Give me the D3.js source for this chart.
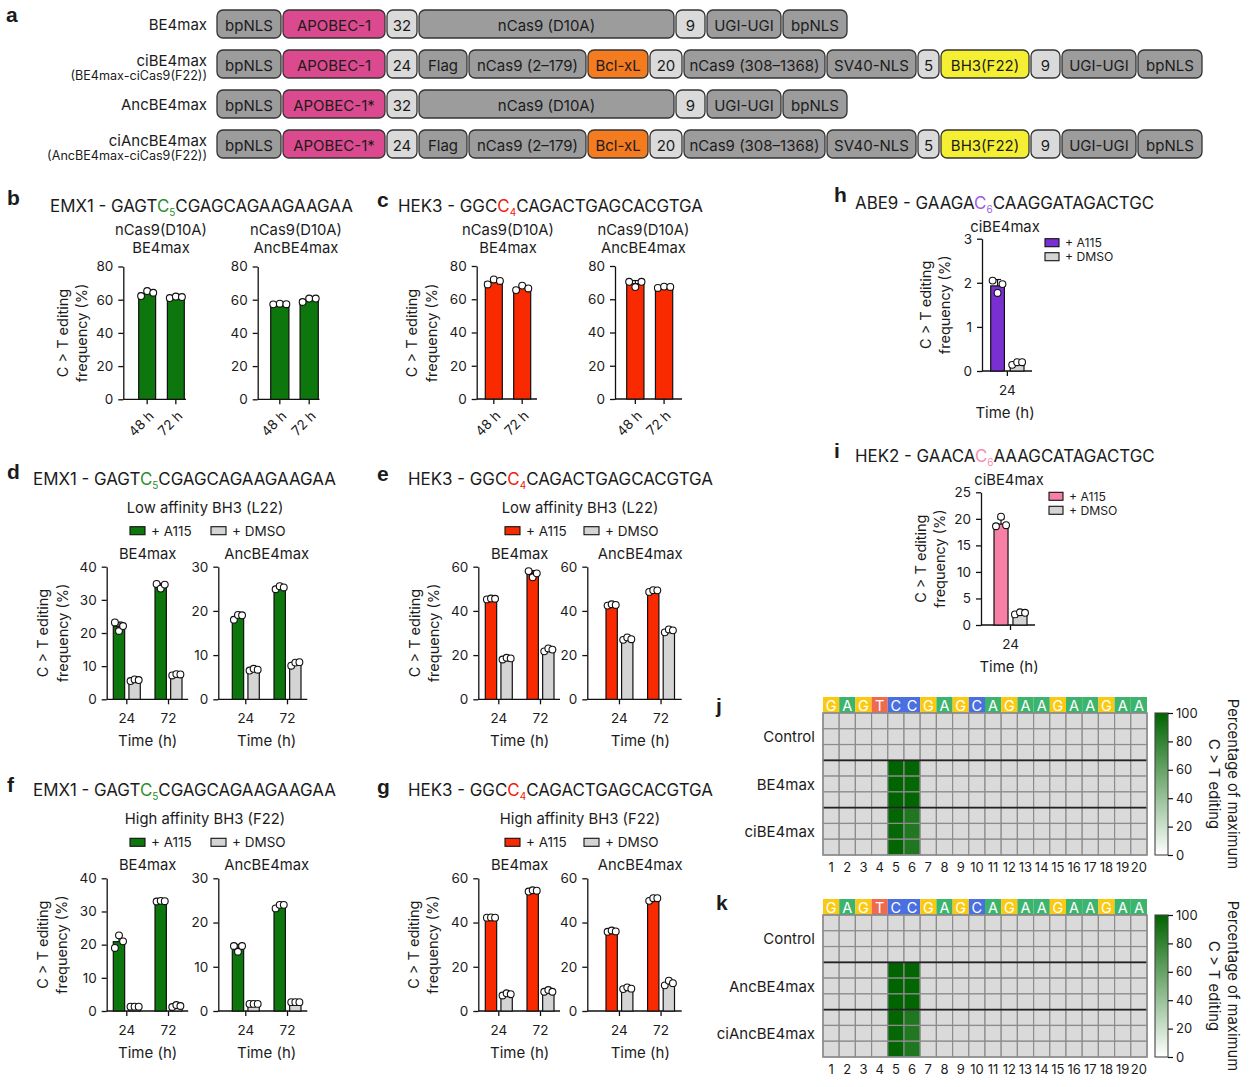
<!DOCTYPE html>
<html><head><meta charset="utf-8">
<script src="https://cdn.jsdelivr.net/npm/d3@7"></script>
<style>body{margin:0;background:#fff} svg{font-family:Inter,'Noto Sans',sans-serif}</style>
</head><body><svg id="c" width="1251" height="1087"></svg>
<script>
// ================= DATA =================
// Panel a: construct architecture
const constructs = ["BE4max", "ciBE4max", "AncBE4max", "ciAncBE4max"];
const constructNotes = ["", "(BE4max-ciCas9(F22))", "", "(AncBE4max-ciCas9(F22))"];
const domainsBE4max = ["bpNLS","APOBEC-1","32","nCas9 (D10A)","9","UGI-UGI","bpNLS"];
const domainsCiBE4max = ["bpNLS","APOBEC-1","24","Flag","nCas9 (2–179)","Bcl-xL","20","nCas9 (308–1368)","SV40-NLS","5","BH3(F22)","9","UGI-UGI","bpNLS"];
const domainsAncBE4max = ["bpNLS","APOBEC-1*","32","nCas9 (D10A)","9","UGI-UGI","bpNLS"];
const domainsCiAncBE4max = ["bpNLS","APOBEC-1*","24","Flag","nCas9 (2–179)","Bcl-xL","20","nCas9 (308–1368)","SV40-NLS","5","BH3(F22)","9","UGI-UGI","bpNLS"];

// Panels b, c: nCas9(D10A) editors (C>T %, 48 h / 72 h)
const timesBC = ["48 h", "72 h"];
const bBE4maxMean = [63.8, 61.5];
const bBE4maxReps = [[62.2, 65.2, 64.2], [61.0, 61.9, 61.6]];
const bAncMean = [57.4, 60.0];
const bAncReps = [[57.2, 57.6, 57.3], [58.6, 60.7, 60.7]];
const cBE4maxMean = [70.5, 66.8];
const cBE4maxReps = [[68.9, 71.9, 71.0], [65.5, 68.2, 66.5]];
const cAncMean = [69.4, 67.3];
const cAncReps = [[70.5, 67.3, 70.5], [66.8, 67.6, 67.4]];

// Panels d-g: A115 vs DMSO at 24 h / 72 h
const timesDG = ["24", "72"];
const dBE_A115 = [22.0, 34.2], dBE_A115Reps = [[23.2, 20.6, 22.1], [34.8, 33.4, 34.6]];
const dBE_DMSO = [5.8, 7.4],  dBE_DMSOReps = [[5.5, 6.0, 5.8], [7.2, 7.6, 7.5]];
const dAnc_A115 = [18.6, 25.2], dAnc_A115Reps = [[18.0, 19.1, 19.0], [24.9, 25.6, 25.3]];
const dAnc_DMSO = [6.7, 8.1],  dAnc_DMSOReps = [[6.5, 6.9, 6.7], [7.6, 8.3, 8.4]];

const eBE_A115 = [45.4, 56.8], eBE_A115Reps = [[45.2, 45.6, 45.5], [58.0, 55.2, 57.0]];
const eBE_DMSO = [18.4, 22.4], eBE_DMSOReps = [[18.0, 18.8, 18.5], [21.7, 23.0, 22.5]];
const eAnc_A115 = [42.7, 49.1], eAnc_A115Reps = [[42.4, 43.0, 42.7], [48.6, 49.4, 49.3]];
const eAnc_DMSO = [27.4, 31.0], eAnc_DMSOReps = [[26.9, 28.0, 27.2], [30.3, 31.6, 31.2]];

const fBE_A115 = [20.9, 33.1], fBE_A115Reps = [[19.0, 22.8, 21.0], [33.0, 33.2, 33.1]];
const fBE_DMSO = [1.3, 1.5],  fBE_DMSOReps = [[1.3, 1.3, 1.3], [1.2, 1.8, 1.5]];
const fAnc_A115 = [14.3, 23.7], fAnc_A115Reps = [[14.7, 13.4, 14.7], [23.2, 24.0, 24.0]];
const fAnc_DMSO = [1.6, 2.0],  fAnc_DMSOReps = [[1.6, 1.6, 1.6], [2.0, 2.0, 2.0]];

const gBE_A115 = [42.2, 54.3], gBE_A115Reps = [[42.2, 42.3, 42.2], [54.0, 54.6, 54.4]];
const gBE_DMSO = [7.5, 9.0],  gBE_DMSOReps = [[7.0, 8.0, 7.6], [8.7, 9.5, 8.7]];
const gAnc_A115 = [36.1, 50.6], gAnc_A115Reps = [[35.8, 36.4, 36.0], [49.8, 51.0, 51.0]];
const gAnc_DMSO = [10.2, 12.6], gAnc_DMSOReps = [[9.9, 10.7, 10.1], [11.6, 13.7, 12.6]];

// Panels h, i: ciBE4max at 24 h
const timesHI = ["24"];
const hA115 = [1.93], hA115Reps = [[2.05, 1.77, 1.97]];
const hDMSO = [0.17], hDMSOReps = [[0.14, 0.20, 0.20]];
const iA115 = [19.0], iA115Reps = [[18.6, 20.4, 18.8]];
const iDMSO = [2.2],  iDMSOReps = [[2.0, 2.4, 2.3]];

// Panels j, k: heatmaps (percentage of maximum C>T editing, positions 1-20)
const protospacer = ["G","A","G","T","C","C","G","A","G","C","A","G","A","A","G","A","A","G","A","A"];
const positions = ["1","2","3","4","5","6","7","8","9","10","11","12","13","14","15","16","17","18","19","20"];
const jGroups = ["Control", "BE4max", "ciBE4max"];
const jMatrix = [
  [0,0,0,0,0,0,0,0,0,0,0,0,0,0,0,0,0,0,0,0],
  [0,0,0,0,0,0,0,0,0,0,0,0,0,0,0,0,0,0,0,0],
  [0,0,0,0,0,0,0,0,0,0,0,0,0,0,0,0,0,0,0,0],
  [0,0,0,0,100,99,0,0,0,0,0,0,0,0,0,0,0,0,0,0],
  [0,0,0,0,100,98,0,0,0,0,0,0,0,0,0,0,0,0,0,0],
  [0,0,0,0,100,99,0,0,0,0,0,0,0,0,0,0,0,0,0,0],
  [0,0,0,0,99,88,0,0,0,0,0,0,0,0,0,0,0,0,0,0],
  [0,0,0,0,98,87,0,0,0,0,0,0,0,0,0,0,0,0,0,0],
  [0,0,0,0,99,88,0,0,0,0,0,0,0,0,0,0,0,0,0,0]
];
const kGroups = ["Control", "AncBE4max", "ciAncBE4max"];
const kMatrix = [
  [0,0,0,0,0,0,0,0,0,0,0,0,0,0,0,0,0,0,0,0],
  [0,0,0,0,0,0,0,0,0,0,0,0,0,0,0,0,0,0,0,0],
  [0,0,0,0,0,0,0,0,0,0,0,0,0,0,0,0,0,0,0,0],
  [0,0,0,0,100,99,0,0,0,0,0,0,0,0,0,0,0,0,0,0],
  [0,0,0,0,100,99,0,0,0,0,0,0,0,0,0,0,0,0,0,0],
  [0,0,0,0,100,99,0,0,0,0,0,0,0,0,0,0,0,0,0,0],
  [0,0,0,0,99,88,0,0,0,0,0,0,0,0,0,0,0,0,0,0],
  [0,0,0,0,98,87,0,0,0,0,0,0,0,0,0,0,0,0,0,0],
  [0,0,0,0,99,88,0,0,0,0,0,0,0,0,0,0,0,0,0,0]
];
const colorbarTicks = [0, 20, 40, 60, 80, 100];

// ================= STYLE / LAYOUT =================
const C = {
  green: "#0d760d", red: "#fa2a00", gray: "#d4d4d4", purple: "#7a2fd2", pink: "#f880a6",
  domGray: "#9c9c9c", domLight: "#dadada", apobec: "#db4a8e", bcl: "#f47b20", bh3: "#f5ef33",
  ink: "#1b1b1b"
};
const domainWidth = {"bpNLS":64,"APOBEC-1":102,"APOBEC-1*":102,"32":30,"24":30,"nCas9 (D10A)":255,"9":29,
  "UGI-UGI":74,"Flag":48,"nCas9 (2–179)":117,"Bcl-xL":60,"20":32,"nCas9 (308–1368)":141,"SV40-NLS":89,"5":21,"BH3(F22)":88};
function domainFill(d) {
  if (d.startsWith("APOBEC")) return C.apobec;
  if (d === "Bcl-xL") return C.bcl;
  if (d.startsWith("BH3")) return C.bh3;
  if (/^\d+$/.test(d)) return C.domLight;
  return C.domGray;
}

const svg = d3.select("#c");

function txt(x, y, s, o = {}) {
  const t = svg.append("text").attr("x", x).attr("y", y).text(s)
    .attr("font-size", o.size || 15).attr("fill", o.fill || C.ink)
    .attr("text-anchor", o.anchor || "start").attr("dominant-baseline", o.base || "central");
  if (o.weight) t.attr("font-weight", o.weight);
  if (o.rotate) t.attr("transform", `rotate(${o.rotate},${x},${y})`);
  if (o.family) t.attr("font-family", o.family);
  return t;
}
function letter(x, y, s) { txt(x, y, s, {size: 21, weight: 700, family: "'Liberation Sans',Arial,sans-serif"}); }

function seqTitle(x, y, pre, c, sub, post, col) {
  const t = svg.append("text").attr("x", x).attr("y", y).attr("font-size", 16.9)
    .attr("fill", C.ink).attr("dominant-baseline", "central");
  t.append("tspan").text(pre);
  t.append("tspan").text(c).attr("fill", col);
  t.append("tspan").text(sub).attr("fill", col).attr("font-size", 10).attr("dy", 6);
  t.append("tspan").text(post).attr("dy", -6);
}

// ================= PANEL a =================
letter(6, 14, "a");
const allDomains = [domainsBE4max, domainsCiBE4max, domainsAncBE4max, domainsCiAncBE4max];
const rowY = d3.scalePoint().domain(constructs).range([24, 144]);
constructs.forEach((name, i) => {
  const cy = rowY(name);
  if (constructNotes[i]) {
    txt(207, cy - 4, name, {anchor: "end"});
    txt(207, cy + 11, constructNotes[i], {anchor: "end", size: 12.6});
  } else {
    txt(207, cy, name, {anchor: "end"});
  }
  let x = 217;
  allDomains[i].forEach(d => {
    const w = domainWidth[d];
    svg.append("rect").attr("x", x).attr("y", cy - 14).attr("width", w).attr("height", 28)
      .attr("rx", 6).attr("fill", domainFill(d)).attr("stroke", "#333").attr("stroke-width", 1.3);
    txt(x + w / 2, cy + 1, d, {anchor: "middle"});
    x += w + 2;
  });
});

// ================= BAR CHART HELPER =================
function barChart(o) {
  const g = svg.append("g");
  const y = d3.scaleLinear().domain([0, o.ymax]).range([o.yBot, o.yTop]);
  const x = d3.scaleBand().domain(o.groups).range(o.barRange).paddingInner(o.padGroup || 0);
  const xi = d3.scaleBand().domain(o.series.map(s => s.name)).range([0, x.bandwidth()]).paddingInner(o.padSeries || 0);
  // y axis
  const ya = g.append("g").attr("transform", `translate(${o.axisX},0)`)
    .call(d3.axisLeft(y).tickValues(o.ticks).tickFormat(d3.format("~g")).tickSize(5).tickSizeOuter(0).tickPadding(5));
  ya.select(".domain").attr("stroke", "#111").attr("stroke-width", 1.3);
  ya.selectAll(".tick line").attr("stroke", "#111").attr("stroke-width", 1.3);
  ya.selectAll(".tick text").attr("font-size", 13.5).attr("fill", C.ink).attr("font-family", "Inter,'Noto Sans',sans-serif");
  // x axis line + ticks
  g.append("line").attr("x1", o.axisX).attr("x2", o.axisEnd).attr("y1", o.yBot).attr("y2", o.yBot)
    .attr("stroke", "#111").attr("stroke-width", 1.3);
  o.groups.forEach((grp, gi) => {
    const cx = x(grp) + x.bandwidth() / 2;
    g.append("line").attr("x1", cx).attr("x2", cx).attr("y1", o.yBot).attr("y2", o.yBot + 5)
      .attr("stroke", "#111").attr("stroke-width", 1.3);
    if (o.rotLabels) {
      g.append("text").attr("transform", `translate(${cx + 4},${o.yBot + 14}) rotate(-45)`)
        .attr("text-anchor", "end").attr("dominant-baseline", "central").attr("font-size", 13.5)
        .attr("fill", C.ink).text(grp);
    } else {
      g.append("text").attr("x", cx).attr("y", o.yBot + 19).attr("text-anchor", "middle")
        .attr("dominant-baseline", "central").attr("font-size", 13.5).attr("fill", C.ink).text(grp);
    }
  });
  // bars, error bars, points
  o.series.forEach(s => {
    o.groups.forEach((grp, gi) => {
      const bx = x(grp) + xi(s.name), bw = xi.bandwidth();
      const m = s.means[gi], reps = s.reps[gi];
      g.append("rect").attr("x", bx).attr("y", y(m)).attr("width", bw).attr("height", y(0) - y(m))
        .attr("fill", s.color).attr("stroke", "#111").attr("stroke-width", 1.2);
      const sd = d3.deviation(reps);
      const cx = bx + bw / 2;
      g.append("line").attr("x1", cx).attr("x2", cx).attr("y1", y(m)).attr("y2", y(m + sd))
        .attr("stroke", "#111").attr("stroke-width", 1.2);
      g.append("line").attr("x1", cx - 3.5).attr("x2", cx + 3.5).attr("y1", y(m + sd)).attr("y2", y(m + sd))
        .attr("stroke", "#111").attr("stroke-width", 1.2);
      const off = [-0.36, 0, 0.36];
      reps.forEach((v, k) => {
        g.append("circle").attr("cx", cx + off[k] * bw).attr("cy", y(v)).attr("r", 3.4)
          .attr("fill", "#fff").attr("stroke", "#111").attr("stroke-width", 1.1);
      });
    });
  });
  return {x, y};
}

function yTitle(xc1, xc2, yc) {
  txt(xc1, yc, "C > T editing", {anchor: "middle", rotate: -90, size: 14.5});
  txt(xc2, yc, "frequency (%)", {anchor: "middle", rotate: -90, size: 14.5});
}
function legend(x1, x2, y, col, size) {
  svg.append("rect").attr("x", x1).attr("y", y - 4).attr("width", 15).attr("height", 8)
    .attr("fill", col).attr("stroke", "#111").attr("stroke-width", 1.1);
  txt(x1 + 21, y, "+ A115", {size: size || 13.5});
  svg.append("rect").attr("x", x2).attr("y", y - 4).attr("width", 15).attr("height", 8)
    .attr("fill", C.gray).attr("stroke", "#111").attr("stroke-width", 1.1);
  txt(x2 + 21, y, "+ DMSO", {size: size || 13.5});
}

// ================= PANEL b =================
letter(7, 197, "b");
seqTitle(50, 206, "EMX1 - GAGT", "C", "5", "CGAGCAGAAGAAGAA", "#2a8f2a");
txt(161, 230, "nCas9(D10A)", {anchor: "middle", size: 14.8});
txt(161, 248, "BE4max", {anchor: "middle", size: 14.8});
txt(296, 230, "nCas9(D10A)", {anchor: "middle", size: 14.8});
txt(296, 248, "AncBE4max", {anchor: "middle", size: 14.8});
yTitle(62, 81, 333);
barChart({axisX: 123.3, axisEnd: 186, yTop: 266.5, yBot: 399.3, ymax: 80, ticks: [0,20,40,60,80],
  groups: timesBC, barRange: [138.7, 184.3], padGroup: 0.41, rotLabels: true,
  series: [{name: "s", color: C.green, means: bBE4maxMean, reps: bBE4maxReps}]});
barChart({axisX: 257.7, axisEnd: 319.5, yTop: 266.5, yBot: 399.3, ymax: 80, ticks: [0,20,40,60,80],
  groups: timesBC, barRange: [270.7, 318.3], padGroup: 0.38, rotLabels: true,
  series: [{name: "s", color: C.green, means: bAncMean, reps: bAncReps}]});

// ================= PANEL c =================
letter(377, 199, "c");
seqTitle(398, 206, "HEK3 - GGC", "C", "4", "CAGACTGAGCACGTGA", "#f0200c");
txt(508, 230, "nCas9(D10A)", {anchor: "middle", size: 14.8});
txt(508, 248, "BE4max", {anchor: "middle", size: 14.8});
txt(643.5, 230, "nCas9(D10A)", {anchor: "middle", size: 14.8});
txt(643.5, 248, "AncBE4max", {anchor: "middle", size: 14.8});
yTitle(411, 431, 333);
barChart({axisX: 476.7, axisEnd: 537, yTop: 266, yBot: 399, ymax: 80, ticks: [0,20,40,60,80],
  groups: timesBC, barRange: [485.3, 530.7], padGroup: 0.4, rotLabels: true,
  series: [{name: "s", color: C.red, means: cBE4maxMean, reps: cBE4maxReps}]});
barChart({axisX: 615, axisEnd: 682, yTop: 266, yBot: 399, ymax: 80, ticks: [0,20,40,60,80],
  groups: timesBC, barRange: [626.7, 672.7], padGroup: 0.4, rotLabels: true,
  series: [{name: "s", color: C.red, means: cAncMean, reps: cAncReps}]});

// ================= PANELS d-g =================
function pairPanel(o) {
  letter(o.lx, o.ly, o.letter);
  seqTitle(o.tx, o.ty, o.pre, "C", o.sub, o.post, o.cCol);
  txt(o.subX, o.ty + 28.5, o.subtitle, {anchor: "middle", size: 14.8});
  legend(o.legX1, o.legX2, o.yTop - 36, o.color);
  barChart({axisX: o.axL, axisEnd: o.axL + o.lenL, yTop: o.yTop, yBot: o.yBot, ymax: o.maxL, ticks: o.ticksL,
    groups: timesDG, barRange: o.rangeL, padGroup: 0.353, padSeries: 0.274,
    series: [{name: "A115", color: o.color, means: o.L[0], reps: o.L[1]}, {name: "DMSO", color: C.gray, means: o.L[2], reps: o.L[3]}]});
  barChart({axisX: o.axR, axisEnd: o.axR + o.lenR, yTop: o.yTop, yBot: o.yBot, ymax: o.maxR, ticks: o.ticksR,
    groups: timesDG, barRange: o.rangeR, padGroup: 0.353, padSeries: 0.274,
    series: [{name: "A115", color: o.color, means: o.R[0], reps: o.R[1]}, {name: "DMSO", color: C.gray, means: o.R[2], reps: o.R[3]}]});
  const cL = (o.rangeL[0] + o.rangeL[1]) / 2, cR = (o.rangeR[0] + o.rangeR[1]) / 2;
  txt(cL, o.yTop - 13, "BE4max", {anchor: "middle", size: 14.8});
  txt(cR, o.yTop - 13, "AncBE4max", {anchor: "middle", size: 14.8});
  txt(cL, o.yBot + 41, "Time (h)", {anchor: "middle", size: 15});
  txt(cR, o.yBot + 41, "Time (h)", {anchor: "middle", size: 15});
  yTitle(o.yt1, o.yt2, (o.yTop + o.yBot) / 2);
}
const emx = {pre: "EMX1 - GAGT", sub: "5", post: "CGAGCAGAAGAAGAA", cCol: "#2a8f2a", color: C.green,
  tx: 33, subX: 205, legX1: 130, legX2: 211, axL: 106.7, lenL: 81.5, axR: 218.3, lenR: 89,
  rangeL: [113.3, 182], rangeR: [232.3, 301], maxL: 40, ticksL: [0,10,20,30,40], maxR: 30, ticksR: [0,10,20,30],
  yt1: 42.5, yt2: 62, lx: 7};
const hek = {pre: "HEK3 - GGC", sub: "4", post: "CAGACTGAGCACGTGA", cCol: "#f0200c", color: C.red,
  tx: 408, subX: 580, legX1: 505, legX2: 584, axL: 478.3, lenL: 81.7, axR: 587.3, lenR: 94.4,
  rangeL: [485.3, 554], rangeR: [606, 674.5], maxL: 60, ticksL: [0,20,40,60], maxR: 60, ticksR: [0,20,40,60],
  yt1: 414, yt2: 433, lx: 377};
pairPanel(Object.assign({}, emx, {letter: "d", ly: 471, ty: 479, subtitle: "Low affinity BH3 (L22)",
  yTop: 566.7, yBot: 699.3, L: [dBE_A115, dBE_A115Reps, dBE_DMSO, dBE_DMSOReps], R: [dAnc_A115, dAnc_A115Reps, dAnc_DMSO, dAnc_DMSOReps]}));
pairPanel(Object.assign({}, hek, {letter: "e", ly: 473, ty: 479, subtitle: "Low affinity BH3 (L22)",
  yTop: 566.7, yBot: 699.3, L: [eBE_A115, eBE_A115Reps, eBE_DMSO, eBE_DMSOReps], R: [eAnc_A115, eAnc_A115Reps, eAnc_DMSO, eAnc_DMSOReps]}));
pairPanel(Object.assign({}, emx, {letter: "f", ly: 784, ty: 790, subtitle: "High affinity BH3 (F22)",
  yTop: 878.3, yBot: 1011, L: [fBE_A115, fBE_A115Reps, fBE_DMSO, fBE_DMSOReps], R: [fAnc_A115, fAnc_A115Reps, fAnc_DMSO, fAnc_DMSOReps]}));
pairPanel(Object.assign({}, hek, {letter: "g", ly: 786, ty: 790, subtitle: "High affinity BH3 (F22)",
  yTop: 878.3, yBot: 1011, L: [gBE_A115, gBE_A115Reps, gBE_DMSO, gBE_DMSOReps], R: [gAnc_A115, gAnc_A115Reps, gAnc_DMSO, gAnc_DMSOReps]}));

// ================= PANELS h, i =================
function singlePanel(o) {
  letter(o.lx, o.ly, o.letter);
  seqTitle(855, o.ty, o.pre, "C", "6", o.post, o.cCol);
  txt(o.cx, o.ty + 24, "ciBE4max", {anchor: "middle", size: 14.8});
  barChart({axisX: o.axisX, axisEnd: o.axisEnd, yTop: o.yTop, yBot: o.yBot, ymax: o.ymax, ticks: o.ticks,
    groups: timesHI, barRange: o.range, padSeries: o.pad,
    series: [{name: "A115", color: o.color, means: o.A[0], reps: o.A[1]}, {name: "DMSO", color: C.gray, means: o.D[0], reps: o.D[1]}]});
  txt(o.cx, o.yBot + 41, "Time (h)", {anchor: "middle", size: 15});
  yTitle(o.yt1, o.yt2, (o.yTop + o.yBot) / 2);
  svg.append("rect").attr("x", o.legX).attr("y", o.yTop).attr("width", 14).attr("height", 8)
    .attr("fill", o.color).attr("stroke", "#111").attr("stroke-width", 1.1);
  txt(o.legX + 20, o.yTop + 4, "+ A115", {size: 12.2});
  svg.append("rect").attr("x", o.legX).attr("y", o.yTop + 14).attr("width", 14).attr("height", 8)
    .attr("fill", C.gray).attr("stroke", "#111").attr("stroke-width", 1.1);
  txt(o.legX + 20, o.yTop + 18, "+ DMSO", {size: 12.2});
}
singlePanel({letter: "h", lx: 834, ly: 194, ty: 202.5, pre: "ABE9 - GAAGA", post: "CAAGGATAGACTGC", cCol: "#9b5de5",
  cx: 1005, axisX: 982, axisEnd: 1032, yTop: 238.7, yBot: 371, ymax: 3, ticks: [0,1,2,3],
  range: [990.7, 1024], pad: 0.3, color: C.purple, A: [hA115, hA115Reps], D: [hDMSO, hDMSOReps],
  yt1: 926, yt2: 945, legX: 1045});
singlePanel({letter: "i", lx: 834, ly: 450, ty: 456, pre: "HEK2 - GAACA", post: "AAAGCATAGACTGC", cCol: "#f78fb0",
  cx: 1009, axisX: 981, axisEnd: 1035, yTop: 492.3, yBot: 625, ymax: 25, ticks: [0,5,10,15,20,25],
  range: [994, 1027], pad: 0.26, color: C.pink, A: [iA115, iA115Reps], D: [iDMSO, iDMSOReps],
  yt1: 921, yt2: 940, legX: 1049});

// ================= PANELS j, k =================
const seqColor = {G: "#fbc90f", A: "#3cb46e", T: "#f06a4f", C: "#4a6fe0"};
const heatColor = d3.scaleLinear().domain([0, 100]).range(["#ffffff", "#006400"]);
const defs = svg.append("defs");
const grad = defs.append("linearGradient").attr("id", "cbar").attr("x1", 0).attr("x2", 0).attr("y1", 1).attr("y2", 0);
grad.append("stop").attr("offset", "0%").attr("stop-color", heatColor(0));
grad.append("stop").attr("offset", "100%").attr("stop-color", heatColor(100));

function heatmap(o) {
  letter(716, o.ly, o.letter);
  const x = d3.scaleBand().domain(positions).range([823, 1147]);
  const rows = d3.range(o.matrix.length);
  const y = d3.scaleBand().domain(rows).range([o.top, o.bot]);
  const g = svg.append("g");
  positions.forEach((p, i) => {
    g.append("rect").attr("x", x(p)).attr("y", o.top - 16).attr("width", x.bandwidth()).attr("height", 16)
      .attr("fill", seqColor[protospacer[i]]);
    g.append("text").attr("x", x(p) + x.bandwidth() / 2).attr("y", o.top - 7.5).attr("text-anchor", "middle")
      .attr("dominant-baseline", "central").attr("font-size", 14.5).attr("fill", "#fff").text(protospacer[i]);
    g.append("text").attr("x", x(p) + x.bandwidth() / 2).attr("y", o.bot + 12).attr("text-anchor", "middle")
      .attr("dominant-baseline", "central").attr("font-size", 13).attr("fill", C.ink).text(p);
  });
  rows.forEach(r => {
    positions.forEach((p, i) => {
      const v = o.matrix[r][i];
      g.append("rect").attr("x", x(p)).attr("y", y(r)).attr("width", x.bandwidth()).attr("height", y.bandwidth())
        .attr("fill", v > 0 ? heatColor(v) : "#dadada").attr("stroke", "#8c8c8c").attr("stroke-width", 1.2);
    });
  });
  [3, 6].forEach(r => g.append("line").attr("x1", 823).attr("x2", 1147).attr("y1", y(r)).attr("y2", y(r))
    .attr("stroke", "#222").attr("stroke-width", 1.6));
  g.append("rect").attr("x", 823).attr("y", o.top).attr("width", 324).attr("height", o.bot - o.top)
    .attr("fill", "none").attr("stroke", "#8c8c8c").attr("stroke-width", 1.4);
  o.groups.forEach((name, gi) => {
    txt(815, y(gi * 3 + 1) + y.bandwidth() / 2, name, {anchor: "end", size: 15});
  });
  // colour bar
  g.append("rect").attr("x", 1155).attr("y", o.top).attr("width", 13).attr("height", o.bot - o.top)
    .attr("fill", "url(#cbar)").attr("stroke", "#444").attr("stroke-width", 1.1);
  const cs = d3.scaleLinear().domain([0, 100]).range([o.bot, o.top]);
  const ca = g.append("g").attr("transform", `translate(1168,0)`)
    .call(d3.axisRight(cs).tickValues(colorbarTicks).tickSize(5).tickSizeOuter(0).tickPadding(3));
  ca.select(".domain").remove();
  ca.selectAll(".tick line").attr("stroke", "#111").attr("stroke-width", 1.2);
  ca.selectAll(".tick text").attr("font-size", 13).attr("fill", C.ink).attr("font-family", "Inter,'Noto Sans',sans-serif");
  const yc = (o.top + o.bot) / 2;
  txt(1233, yc, "Percentage of maximum", {anchor: "middle", rotate: 90, size: 14.8});
  txt(1214, yc, "C > T editing", {anchor: "middle", rotate: 90, size: 14.8});
}
heatmap({letter: "j", ly: 705, top: 713, bot: 855, matrix: jMatrix, groups: jGroups});
heatmap({letter: "k", ly: 902, top: 915, bot: 1057, matrix: kMatrix, groups: kGroups});
</script></body></html>
